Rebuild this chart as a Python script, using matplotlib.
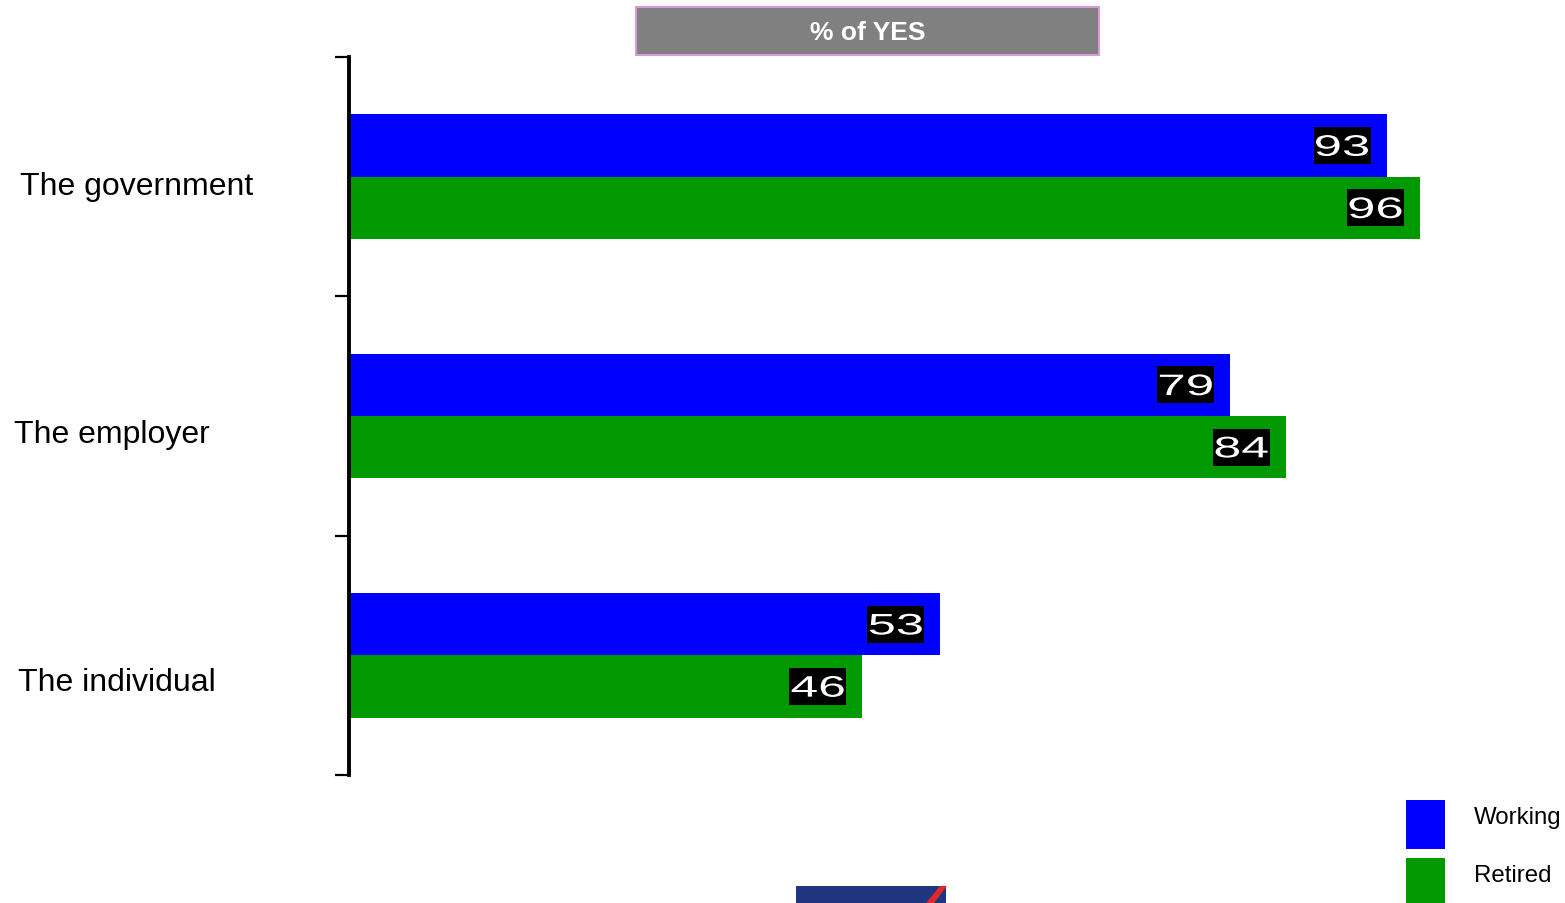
import matplotlib
matplotlib.use("Agg")
import matplotlib.pyplot as plt
from matplotlib.patches import Rectangle, PathPatch, Polygon
from matplotlib.textpath import TextPath
from matplotlib.font_manager import FontProperties
from matplotlib.transforms import Affine2D, IdentityTransform
import numpy as np

categories = ["The government", "The employer", "The individual"]
series = ["Working", "Retired"]
working = [93, 79, 53]
retired = [96, 84, 46]
title = "% of YES"

colors = ["#0000ff", "#009900"]
plt.rcParams["font.family"] = ["Liberation Sans", "DejaVu Sans"]

W, H = 1565, 904
fig = plt.figure(figsize=(W / 100, H / 100), dpi=100)
ax = fig.add_axes([349 / W, 1 - 776 / H, 1 - 349 / W, (776 - 58) / H])

y = np.arange(len(categories))
bh = 0.26
ax.barh(y - bh / 2, working, height=bh, color=colors[0])
ax.barh(y + bh / 2, retired, height=bh, color=colors[1])

ax.set_xlim(0, 109)
ax.set_ylim(len(categories) - 0.5, -0.5)
ax.set_yticks(np.arange(len(categories) + 1) - 0.5)
ax.set_yticklabels([])
ax.tick_params(axis="y", direction="out", length=10, width=1.6)
ax.set_xticks([])
for s in ["top", "right", "bottom"]:
    ax.spines[s].set_visible(False)
ax.spines["left"].set_linewidth(2.8)

# category labels, left aligned near the figure edge
label_x = [20, 14, 18]
label_dy = [9, 18, 27]
for i, name in enumerate(categories):
    _, yc = ax.transData.transform((0, y[i]))
    fig.text(label_x[i] / W, (yc - label_dy[i]) / H, name, fontsize=23,
             va="center", ha="left")

# value labels: black boxes with wide white digits
fp = FontProperties(family="Liberation Sans")
for vals, off in [(working, -bh / 2), (retired, bh / 2)]:
    for i, v in enumerate(vals):
        xe, yc = ax.transData.transform((v, y[i] + off))
        bw, bhp = 57, 37
        x0 = xe - 16 - bw
        fig.add_artist(Rectangle((x0, yc - bhp / 2), bw, bhp, facecolor="black",
                                 edgecolor="none", transform=IdentityTransform()))
        tp = TextPath((0, 0), str(v), size=1, prop=fp)
        ext = tp.get_extents()
        tr = (Affine2D().translate(-ext.x0 - ext.width / 2, -ext.y0 - ext.height / 2)
              .scale(52 / ext.width, 21 / ext.height)
              .translate(x0 + bw / 2, yc))
        fig.add_artist(PathPatch(tp, facecolor="white", edgecolor="none", transform=tr))

# title box
fig.add_artist(Rectangle((636 / W, 1 - 55.5 / H), (1099 - 636) / W, 48 / H,
                         facecolor="#808080", edgecolor="#d89ad8", linewidth=1.5,
                         transform=fig.transFigure))
fig.text(868 / W, 1 - 33 / H, title, color="white", fontsize=19, fontweight="bold",
         ha="center", va="center")

# legend
for i, (name, c) in enumerate(zip(series, colors)):
    top = 801 + i * 58
    fig.add_artist(Rectangle((1406 / W, 1 - (top + 49) / H), 39 / W, 49 / H,
                             facecolor=c, edgecolor="none", transform=fig.transFigure))
    fig.text(1474 / W, 1 - (top + 17) / H, name, fontsize=17.3, ha="left", va="center")

# logo strip at the bottom
fig.add_artist(Rectangle((796 / W, 0), 150 / W, 17 / H, facecolor="#1f3580",
                         edgecolor="none", transform=fig.transFigure))
fig.add_artist(Polygon([(926 / W, 0), (934 / W, 0), (947 / W, 17 / H), (940 / W, 17 / H)],
                       closed=True, facecolor="#e02828", edgecolor="none",
                       transform=fig.transFigure))

fig.savefig("out.png", dpi=100)
